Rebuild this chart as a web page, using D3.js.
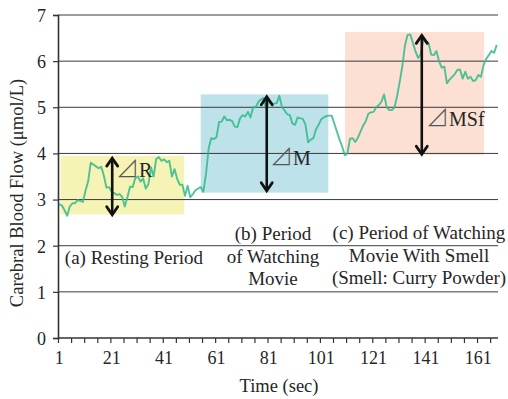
<!DOCTYPE html>
<html>
<head>
<meta charset="utf-8">
<script src="https://cdn.jsdelivr.net/npm/d3@7"></script>
<style>
  html, body { margin: 0; padding: 0; background: #fff; }
  svg { display: block; }
  text { font-family: "Liberation Serif", "Times New Roman", serif; fill: #262626; }
</style>
</head>
<body>
<svg id="chart" width="508" height="399"></svg>
<script>
// Cerebral blood flow, one reading per second (1..168 s)
const seconds = d3.range(1, 169);
const bloodFlow = [
  2.90, 2.87, 2.77, 2.65, 2.85, 2.92, 2.92, 2.99, 2.97, 2.95,
  3.19, 3.39, 3.80, 3.76, 3.72, 3.68, 3.71, 3.52, 3.26, 3.27,
  3.17, 3.14, 3.10, 3.12, 3.06, 2.85, 3.05, 3.28, 3.27, 3.46,
  3.50, 3.39, 3.46, 3.24, 3.33, 3.70, 3.50, 3.88, 3.92, 3.84,
  3.87, 3.81, 3.84, 3.50, 3.66, 3.45, 3.32, 3.32, 3.08, 3.30,
  3.05, 3.12, 3.20, 3.24, 3.27, 3.17, 3.55, 4.10, 4.33, 4.31,
  4.35, 4.68, 4.69, 4.80, 4.72, 4.73, 4.70, 4.58, 4.57, 4.76,
  4.83, 4.80, 4.90, 4.78, 5.00, 5.00, 5.12, 5.17, 5.20, 4.96,
  5.12, 5.08, 5.08, 5.09, 5.25, 5.01, 4.93, 4.85, 4.83, 4.65,
  4.62, 4.78, 4.76, 4.75, 4.62, 4.24, 4.30, 4.33, 4.52, 4.62,
  4.74, 4.78, 4.81, 4.82, 4.82, 4.65, 4.47, 4.30, 4.15, 3.96,
  4.00, 4.32, 4.33, 4.25, 4.34, 4.47, 4.60, 4.70, 4.86, 4.89,
  4.90, 5.00, 5.05, 5.12, 5.28, 5.00, 4.94, 4.94, 5.00, 5.25,
  5.56, 5.90, 6.35, 6.57, 6.58, 6.40, 6.21, 6.07, 6.15, 6.46,
  6.43, 6.39, 6.14, 6.13, 6.22, 6.00, 5.86, 5.88, 5.52, 5.60,
  5.66, 5.72, 5.81, 5.82, 5.62, 5.77, 5.62, 5.66, 5.57, 5.59,
  5.70, 5.66, 5.92, 6.05, 6.13, 6.22, 6.18, 6.35
];
const xTickLabels = [1, 21, 41, 61, 81, 101, 121, 141, 161];
const yTicks = [0, 1, 2, 3, 4, 5, 6, 7];

// Experiment phases: [first second, last second] and the range label
const periodNames = ["R", "M", "MSf"];
const periodSpans = [[1, 48], [55, 105], [106, 168]];
const periodCaptions = [
  ["(a) Resting Period"],
  ["(b) Period", "of Watching", "Movie"],
  ["(c) Period of Watching", "Movie With Smell", "(Smell: Curry Powder)"]
];

const svg = d3.select("#chart");
const plot = { left: 58, right: 498, top: 15, bottom: 338 };

const x = d3.scaleBand().domain(seconds).range([plot.left, plot.right]).padding(0);
const xEdge = d3.scaleLinear().domain([0, seconds.length]).range([plot.left, plot.right]);
const y = d3.scaleLinear().domain([0, 7]).range([plot.bottom, plot.top]);
const cx = d => x(d) + x.bandwidth() / 2;

// Shaded boxes marking each phase
const boxStyle = [
  { fill: "#eee86f", x0: 1.0, x1: 48.2, y0: 2.68, y1: 3.95 },
  { fill: "#7bc5d5", x0: 54.5, x1: 103.2, y0: 3.15, y1: 5.28 },
  { fill: "#f9c1a9", x0: 109.6, x1: 162.7, y0: 3.97, y1: 6.63 }
];
svg.append("g").selectAll("rect").data(boxStyle).join("rect")
  .attr("x", d => xEdge(d.x0))
  .attr("width", d => xEdge(d.x1) - xEdge(d.x0))
  .attr("y", d => y(d.y1))
  .attr("height", d => y(d.y0) - y(d.y1))
  .attr("fill", d => d.fill)
  .attr("opacity", 0.5);

// Horizontal gridlines
svg.append("g").selectAll("line").data(yTicks.filter(t => t > 0)).join("line")
  .attr("x1", plot.left).attr("x2", plot.right)
  .attr("y1", d => y(d)).attr("y2", d => y(d))
  .attr("stroke", "#3a3a3a").attr("stroke-width", 1);

// Data line
const data = seconds.map((s, i) => ({ s, v: bloodFlow[i] }));
svg.append("path")
  .datum(data)
  .attr("fill", "none")
  .attr("stroke", "#30b889")
  .attr("stroke-opacity", 0.85)
  .attr("stroke-width", 1.9)
  .attr("stroke-linejoin", "round")
  .attr("d", d3.line().x(d => cx(d.s)).y(d => y(d.v)));

// Y axis
const yAxis = svg.append("g")
  .attr("transform", `translate(${plot.left},0)`)
  .call(d3.axisLeft(y).tickValues(yTicks).tickSize(5).tickFormat(d3.format("d")));
yAxis.select(".domain").attr("stroke", "#333").attr("stroke-width", 1.6);
yAxis.selectAll(".tick line").attr("stroke", "#333").attr("stroke-width", 1.2);
yAxis.selectAll(".tick text")
  .attr("x", -12).attr("dy", "0.35em")
  .style("font-family", "Liberation Serif, serif")
  .style("font-size", "18px").attr("fill", "#333");

// X axis: minor tick marks every 5 seconds, labels every 20 seconds
const xTicks = svg.append("g")
  .attr("transform", `translate(0,${plot.bottom})`)
  .call(d3.axisBottom(xEdge).tickValues(d3.range(0, seconds.length, 5)).tickSize(5).tickFormat(""));
xTicks.select(".domain").remove();
xTicks.selectAll(".tick line").attr("stroke", "#333").attr("stroke-width", 1.2);

const xAxis = svg.append("g")
  .attr("transform", `translate(0,${plot.bottom})`)
  .call(d3.axisBottom(x).tickValues(xTickLabels).tickSize(0).tickPadding(13));
xAxis.select(".domain").attr("stroke", "#333").attr("stroke-width", 1.6)
  .attr("d", `M${plot.left},0H${plot.right}`);
xAxis.selectAll(".tick text")
  .style("font-family", "Liberation Serif, serif")
  .style("font-size", "18px").attr("fill", "#333");

// Axis titles
svg.append("text")
  .attr("x", 279).attr("y", 392)
  .attr("text-anchor", "middle")
  .style("font-size", "18.5px")
  .text("Time (sec)");
svg.append("text")
  .attr("transform", "translate(23,193) rotate(-90)")
  .attr("text-anchor", "middle")
  .style("font-size", "18.5px")
  .text("Carebral Blood Flow (μmol/L)");

// Double-headed arrows spanning the min..max within each phase
const arrowX = [20.7, 79.7, 138.9];
const arrows = svg.append("g");
periodSpans.forEach((span, k) => {
  const vals = bloodFlow.slice(span[0] - 1, span[1]);
  const lo = d3.min(vals), hi = d3.max(vals);
  const ax = xEdge(arrowX[k]);
  const yTop = y(hi) + 1, yBot = y(lo) - 1;
  arrows.append("line")
    .attr("x1", ax).attr("x2", ax).attr("y1", yTop).attr("y2", yBot)
    .attr("stroke", "#111").attr("stroke-width", 2.6);
  arrows.append("path")
    .attr("d", `M${ax - 5.5},${yTop + 8}L${ax},${yTop}L${ax + 5.5},${yTop + 8}` +
               `M${ax - 5.5},${yBot - 8}L${ax},${yBot}L${ax + 5.5},${yBot - 8}`)
    .attr("fill", "none").attr("stroke", "#111")
    .attr("stroke-width", 2.8).attr("stroke-linecap", "round").attr("stroke-linejoin", "miter");
});

// Delta labels beside each arrow
const deltaPos = [
  { x: 116, y: 177 },
  { x: 270, y: 165 },
  { x: 426, y: 126 }
];
periodNames.forEach((name, k) => {
  const t = svg.append("text")
    .attr("x", deltaPos[k].x).attr("y", deltaPos[k].y)
    .style("font-size", "20px");
  t.append("tspan").text("⊿")
    .style("font-family", "Noto Sans CJK JP, Noto Sans CJK SC, sans-serif")
    .attr("fill", "#555").style("font-size", "23px").style("font-weight", "300");
  t.append("tspan").text(name);
});

// Phase captions
const captionPos = [
  { x: 134, y: 264 },
  { x: 273, y: 240 },
  { x: 419, y: 239 }
];
periodCaptions.forEach((lines, k) => {
  const t = svg.append("text")
    .attr("x", captionPos[k].x).attr("y", captionPos[k].y)
    .attr("text-anchor", "middle")
    .style("font-size", "19px");
  lines.forEach((ln, j) => {
    t.append("tspan").attr("x", captionPos[k].x).attr("dy", j === 0 ? 0 : 22.5).text(ln);
  });
});
</script>
</body>
</html>
